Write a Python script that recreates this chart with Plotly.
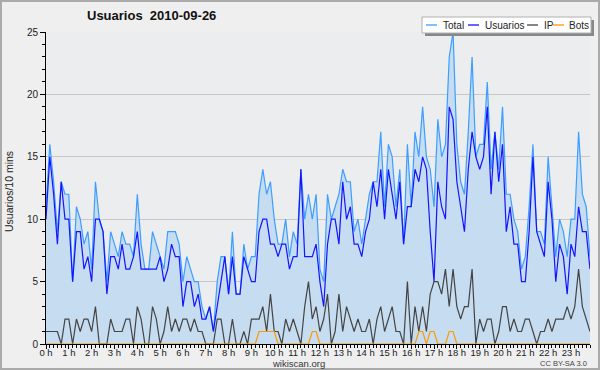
import plotly.graph_objects as go

# 10-minute slots of the day (0 = 00:00, 143 = 23:50)
slots = list(range(144))

total = [11, 16, 13, 9, 13, 12, 12, 5, 11, 10, 8, 9,
         6, 13, 10, 9, 5, 9, 8, 7, 9, 8, 8, 7,
         12, 8, 6, 6, 9, 8, 7, 6, 9, 9, 9, 8,
         5, 7, 6, 5, 5, 3, 2, 3, 1, 5, 7, 7,
         4, 9, 4, 4, 8, 6, 7, 7, 12, 14, 12, 13,
         10, 8, 8, 10, 7, 9, 8, 14, 10, 12, 10, 12,
         6, 5, 12, 10, 11, 12, 14, 13, 13, 9, 10, 8,
         10, 12, 13, 13, 17, 11, 16, 15, 11, 14, 8, 16,
         11, 17, 15, 19, 15, 14, 11, 18, 15, 16, 23, 25,
         16, 13, 12, 17, 23, 15, 16, 16, 21, 14, 17, 14,
         19, 12, 12, 10, 9, 6, 7, 11, 16, 9, 9, 8,
         15, 11, 7, 10, 9, 7, 10, 10, 17, 12, 11, 7]

usuarios = [10, 15, 12, 8, 13, 10, 10, 5, 9, 9, 6, 7,
            5, 10, 10, 9, 4, 7, 7, 6, 8, 6, 6, 7,
            9, 6, 6, 6, 6, 6, 7, 5, 6, 8, 7, 7,
            3, 5, 5, 3, 4, 2, 2, 3, 1, 3, 5, 7,
            4, 7, 4, 4, 7, 6, 5, 5, 9, 10, 10, 8,
            8, 7, 8, 8, 6, 7, 7, 14, 7, 7, 7, 8,
            5, 3, 8, 10, 10, 8, 13, 10, 11, 8, 8, 7,
            9, 10, 13, 11, 14, 10, 14, 12, 10, 13, 8, 11,
            11, 14, 13, 15, 14, 9, 5, 13, 11, 10, 19, 18,
            13, 11, 9, 14, 17, 15, 14, 15, 19, 12, 17, 13,
            16, 9, 11, 8, 8, 5, 5, 9, 15, 9, 8, 7,
            13, 10, 5, 8, 7, 4, 8, 7, 11, 9, 9, 6]

ip = [1, 1, 1, 1, 0, 2, 2, 0, 2, 1, 2, 2,
      1, 3, 0, 0, 0, 2, 1, 1, 1, 2, 2, 0,
      3, 2, 0, 0, 3, 2, 0, 1, 3, 1, 2, 1,
      2, 2, 1, 2, 1, 1, 0, 0, 0, 2, 2, 0,
      0, 2, 0, 0, 1, 0, 2, 2, 2, 3, 1, 4,
      1, 1, 0, 2, 1, 2, 1, 0, 3, 5, 2, 3,
      1, 2, 4, 0, 1, 4, 1, 3, 2, 1, 2, 1,
      1, 2, 0, 2, 3, 1, 2, 3, 1, 1, 0, 5,
      0, 3, 1, 3, 1, 4, 5, 5, 4, 6, 3, 6,
      3, 2, 3, 3, 6, 0, 2, 1, 2, 2, 0, 1,
      3, 3, 1, 2, 1, 1, 2, 2, 1, 0, 1, 1,
      2, 1, 2, 2, 2, 3, 2, 3, 6, 3, 2, 1]

bots = [0, 0, 0, 0, 0, 0, 0, 0, 0, 0, 0, 0,
        0, 0, 0, 0, 0, 0, 0, 0, 0, 0, 0, 0,
        0, 0, 0, 0, 0, 0, 0, 0, 0, 0, 0, 0,
        0, 0, 0, 0, 0, 0, 0, 0, 0, 0, 0, 0,
        0, 0, 0, 0, 0, 0, 0, 0, 1, 1, 1, 1,
        1, 0, 0, 0, 0, 0, 0, 0, 0, 0, 1, 1,
        0, 0, 0, 0, 0, 0, 0, 0, 0, 0, 0, 0,
        0, 0, 0, 0, 0, 0, 0, 0, 0, 0, 0, 0,
        0, 0, 1, 1, 0, 1, 1, 0, 0, 0, 1, 1,
        0, 0, 0, 0, 0, 0, 0, 0, 0, 0, 0, 0,
        0, 0, 0, 0, 0, 0, 0, 0, 0, 0, 0, 0,
        0, 0, 0, 0, 0, 0, 0, 0, 0, 0, 0, 0]

hour_ticks = [0, 6, 12, 18, 24, 30, 36, 42, 48, 54, 60, 66,
              72, 78, 84, 90, 96, 102, 108, 114, 120, 126, 132, 138]
hour_labels = ["0 h", "1 h", "2 h", "3 h", "4 h", "5 h", "6 h", "7 h",
               "8 h", "9 h", "10 h", "11 h", "12 h", "13 h", "14 h", "15 h",
               "16 h", "17 h", "18 h", "19 h", "20 h", "21 h", "22 h", "23 h"]

series_names = ["Total", "Usuarios", "IP", "Bots"]
series_colors = ["#3d9eff", "#1414ff", "#444444", "#ff9900"]

FONT = "Liberation Sans, Arial, sans-serif"

# plot area in pixels
L, R, T, B = 46, 590, 32, 344
W, H = 600, 370


def px(x, y):
    return (x - L) / (R - L), (B - y) / (B - T)


fig = go.Figure()
fig.add_trace(go.Scatter(x=slots, y=total, name="Total", mode="lines",
                         line=dict(color=series_colors[0], width=1.2),
                         fill="tozeroy", fillcolor="#c6dcf0"))
fig.add_trace(go.Scatter(x=slots, y=usuarios, name="Usuarios", mode="lines",
                         line=dict(color=series_colors[1], width=1.2)))
fig.add_trace(go.Scatter(x=slots, y=ip, name="IP", mode="lines",
                         line=dict(color=series_colors[2], width=1.2)))
fig.add_trace(go.Scatter(x=slots, y=bots, name="Bots", mode="lines",
                         line=dict(color=series_colors[3], width=1.2)))

shapes = []
annotations = []

# outer frame
x0, y0 = px(1, 369)
x1, y1 = px(599, 1)
shapes.append(dict(type="rect", xref="paper", yref="paper", x0=x0, y0=y0, x1=x1, y1=y1,
                   line=dict(color="#aaaaaa", width=2), fillcolor="rgba(0,0,0,0)", layer="above"))

# legend box with shadow
sx0, sy0 = px(425, 36)
sx1, sy1 = px(594, 20)
shapes.append(dict(type="rect", xref="paper", yref="paper", x0=sx0, y0=sy0, x1=sx1, y1=sy1,
                   line=dict(width=0), fillcolor="#888888", layer="above"))
bx0, by0 = px(422, 33)
bx1, by1 = px(591, 17)
shapes.append(dict(type="rect", xref="paper", yref="paper", x0=bx0, y0=by0, x1=bx1, y1=by1,
                   line=dict(color="#b0b0b0", width=1), fillcolor="white", layer="above"))

swatch_x = [(426, 437), (468, 479), (527, 538), (553, 564)]
text_x = [441, 483, 542, 567]
for name, col, (a, b), tx in zip(series_names, series_colors, swatch_x, text_x):
    xa, yy = px(a, 25)
    xb, _ = px(b, 25)
    shapes.append(dict(type="line", xref="paper", yref="paper", x0=xa, x1=xb, y0=yy, y1=yy,
                       line=dict(color=col, width=1.3), layer="above"))
    xt, yt = px(tx, 25)
    annotations.append(dict(xref="paper", yref="paper", x=xt, y=yt, text=name,
                            showarrow=False, xanchor="left", yanchor="middle",
                            font=dict(family=FONT, size=10, color="#222222")))

# title
tx, ty = px(151, 16)
annotations.append(dict(xref="paper", yref="paper", x=tx, y=ty,
                        text="<b>Usuarios\u00a0\u00a02010-09-26</b>", showarrow=False,
                        xanchor="center", yanchor="middle",
                        font=dict(family=FONT, size=13, color="#111111")))
# y axis title
ax, ay = px(9, 192)
annotations.append(dict(xref="paper", yref="paper", x=ax, y=ay, text="Usuarios/10 mins",
                        showarrow=False, textangle=-90, xanchor="center", yanchor="middle",
                        font=dict(family=FONT, size=10.5, color="#222222")))
# footer
fx, fy = px(298, 363)
annotations.append(dict(xref="paper", yref="paper", x=fx, y=fy, text="wikiscan.org",
                        showarrow=False, xanchor="center", yanchor="middle",
                        font=dict(family=FONT, size=9.5, color="#333333")))
cx, cy = px(589, 363)
annotations.append(dict(xref="paper", yref="paper", x=cx, y=cy, text="CC BY-SA 3.0",
                        showarrow=False, xanchor="right", yanchor="middle",
                        font=dict(family=FONT, size=7.5, color="#444444")))

fig.update_layout(
    width=W, height=H,
    margin=dict(l=L, r=W - R, t=T, b=H - B),
    paper_bgcolor="#efefef",
    plot_bgcolor="#ecedef",
    showlegend=False,
    font=dict(family=FONT, size=10, color="#222222"),
    shapes=shapes,
    annotations=annotations,
    xaxis=dict(range=[0, 143], tickmode="array", tickvals=hour_ticks, ticktext=hour_labels,
               showline=True, linecolor="black", linewidth=1, mirror=False,
               ticks="outside", ticklen=4, tickcolor="black", tickwidth=1,
               ticklabelstandoff=-4,
               showgrid=False, zeroline=False, tickfont=dict(size=9.5),
               minor=dict(tickmode="linear", tick0=0, dtick=1, ticks="outside",
                          ticklen=3, tickcolor="black", showgrid=False)),
    yaxis=dict(range=[0, 25], tickmode="linear", tick0=0, dtick=5,
               showline=True, linecolor="black", linewidth=1,
               ticks="outside", ticklen=5, tickcolor="black", tickwidth=1,
               showgrid=True, gridcolor="#c8c8c8", gridwidth=1, zeroline=False,
               tickfont=dict(size=10),
               minor=dict(tickmode="linear", tick0=0, dtick=1, ticks="outside",
                          ticklen=3, tickcolor="black", showgrid=False)),
)

fig.write_html("out.html", config={"displayModeBar": False},
               post_script="document.body.style.margin='0px';")
